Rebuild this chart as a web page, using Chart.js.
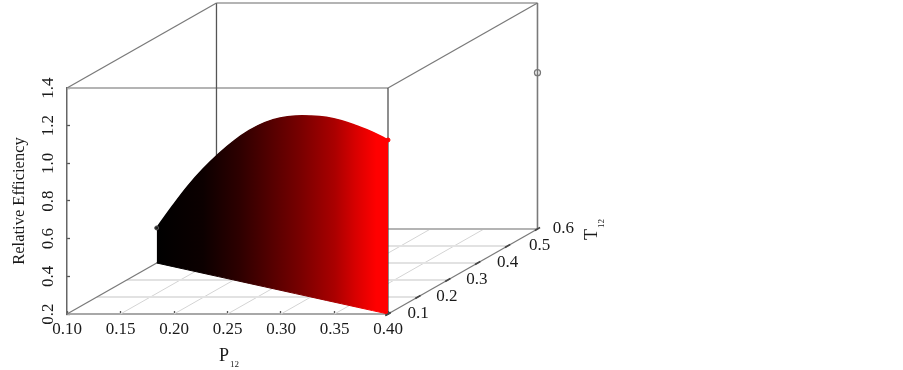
<!DOCTYPE html>
<html>
<head>
<meta charset="utf-8">
<style>html,body{margin:0;padding:0;background:#fff}#box{position:relative;width:903px;height:370px}</style>
<script src="https://cdn.jsdelivr.net/npm/chart.js@4/dist/chart.umd.min.js"></script>
</head>
<body>
<div id="box"><canvas id="c" width="903" height="370"></canvas></div>
<script>
// Data
const pTicks = [0.10, 0.15, 0.20, 0.25, 0.30, 0.35, 0.40];
const tTicks = [0.1, 0.2, 0.3, 0.4, 0.5, 0.6];
const effTicks = [0.2, 0.4, 0.6, 0.8, 1.0, 1.2, 1.4];
const surfaceP = [0.10,0.12,0.14,0.16,0.18,0.20,0.22,0.24,0.26,0.28,0.30,0.32,0.34,0.36,0.38,0.40];
const surfaceT = [0.40,0.38,0.36,0.34,0.32,0.30,0.28,0.26,0.24,0.22,0.20,0.18,0.16,0.14,0.12,0.10];
const surfaceEff = [0.386,0.518,0.643,0.753,0.851,0.938,1.012,1.072,1.114,1.143,1.161,1.172,1.172,1.162,1.148,1.124];
const markerPoint = [0.40, 0.60, 1.03]; // P, T, efficiency

// Oblique view: how much one unit of T shifts a point in P and efficiency units
const SHIFT_P = 0.2794, SHIFT_E = 0.9027, T0 = 0.1;
const P_MIN = 0.10, P_MAX = 0.40, E_MIN = 0.2, E_MAX = 1.4, T_MAX = 0.6;
const project = (p, t, e) => ({ x: p + (t - T0) * SHIFT_P, y: e + (t - T0) * SHIFT_E });

const seg = (a, b, color, width, order) => ({
  data: [project(...a), project(...b)], borderColor: color, borderWidth: width,
  pointRadius: 0, clip: false, order, fill: false, tension: 0
});

const FONT = '"Liberation Serif", serif';
const TEXT = '#1a1a1a';
const colorStops = [[0, '#000000'], [0.2, '#0c0000'], [0.36, '#2e0000'], [0.62, '#780000'], [0.77, '#aa0000'], [0.86, '#d80000'], [0.95, '#ff0000'], [1, '#ff0000']];
function surfaceGradient(c) {
  const ch = c.chart, xs = ch.scales.x;
  if (!ch.chartArea || !xs) return '#800000';
  const g = ch.ctx.createLinearGradient(
    xs.getPixelForValue(project(surfaceP[0], surfaceT[0], 0).x), 0,
    xs.getPixelForValue(project(surfaceP[surfaceP.length - 1], surfaceT[surfaceT.length - 1], 0).x), 0);
  colorStops.forEach(s => g.addColorStop(s[0], s[1]));
  return g;
}

const datasets = [];
// Surface: sits above everything else
const lastIdx = surfaceP.length - 1;
datasets.push({
  data: surfaceP.map((p, i) => project(p, surfaceT[i], surfaceEff[i])),
  order: 0, clip: false, tension: 0.4,
  borderColor: surfaceGradient, backgroundColor: surfaceGradient, borderWidth: 1.5, fill: '+1',
  pointRadius: surfaceP.map((p, i) => (i === 0 || i === lastIdx) ? 2 : 0),
  pointBackgroundColor: surfaceP.map((p, i) => i === 0 ? '#222222' : '#ff0000'),
  pointBorderColor: surfaceP.map((p, i) => i === 0 ? '#555555' : '#ff0000'),
  pointBorderWidth: 1
});
datasets.push({
  data: surfaceP.map((p, i) => project(p, surfaceT[i], E_MIN)),
  order: 0.5, clip: false, borderColor: surfaceGradient, borderWidth: 1, pointRadius: 0, fill: false
});
// Floor grid
tTicks.forEach(t => datasets.push(seg([P_MIN, t, E_MIN], [P_MAX, t, E_MIN], t === T0 ? 'rgba(0,0,0,0)' : (t === T_MAX ? '#b4b4b4' : '#e2e2e2'), 2, 5)));
pTicks.forEach(p => { if (p !== P_MIN && p !== P_MAX) datasets.push(seg([p, T0, E_MIN], [p, T_MAX, E_MIN], '#d4d4d4', 1, 5)); });
// Box edges
const EDGE = '#7a7a7a', RIB = '#b4b4b4', DARK = '#555555';
datasets.push(seg([P_MIN, T0, E_MIN], [P_MIN, T_MAX, E_MIN], EDGE, 1.3, 3));
datasets.push(seg([P_MAX, T0, E_MIN], [P_MAX, T_MAX, E_MIN], EDGE, 1.3, 3));
datasets.push(seg([P_MIN, T0, E_MAX], [P_MIN, T_MAX, E_MAX], EDGE, 1.3, 3));
datasets.push(seg([P_MAX, T0, E_MAX], [P_MAX, T_MAX, E_MAX], EDGE, 1.3, 3));
datasets.push(seg([P_MIN, T_MAX, E_MIN], [P_MIN, T_MAX, E_MAX], DARK, 1.3, 3));
datasets.push(seg([P_MAX, T_MAX, E_MIN], [P_MAX, T_MAX, E_MAX], EDGE, 1.6, 3));
datasets.push(seg([P_MAX, T0, E_MIN], [P_MAX, T0, E_MAX], '#444444', 1.2, 3));
datasets.push(seg([P_MIN, T0, E_MAX], [P_MAX, T0, E_MAX], RIB, 2, 3));
datasets.push(seg([P_MIN, T_MAX, E_MAX], [P_MAX, T_MAX, E_MAX], RIB, 2, 3));
// Elements lying outside the plot rectangle (redrawn by the plugin below)
datasets.push({
  outside: true, order: 1, clip: false, showLine: false,
  data: [project(...markerPoint)], pointStyle: 'circle', pointRadius: 3,
  pointBackgroundColor: 'rgba(255,255,255,0)', pointBorderColor: '#777777', pointBorderWidth: 1.3
});
datasets.push({
  outside: true, order: 1, clip: false, showLine: false,
  data: tTicks.map(t => project(P_MAX, t, E_MIN)), pointStyle: 'line', pointRadius: 3,
  pointRotation: -30, pointBorderColor: '#444444', pointBorderWidth: 1.5
});

const labelOffsets = [30, 29, 29, 30, 32, 26];
const outerAxis = {
  id: 'outerAxis',
  afterDatasetsDraw(chart) {
    const ctx = chart.ctx, full = { left: -50, right: 1000, top: -50, bottom: 500 };
    chart.data.datasets.forEach((d, i) => {
      if (d.outside) chart.getDatasetMeta(i).data.forEach(el => el.draw(ctx, full));
    });
    const xs = chart.scales.x, ys = chart.scales.y;
    ctx.save();
    ctx.fillStyle = TEXT;
    ctx.font = '17px ' + FONT;
    ctx.textAlign = 'center';
    ctx.textBaseline = 'middle';
    tTicks.forEach((t, i) => {
      const q = project(P_MAX, t, E_MIN);
      ctx.fillText(t.toFixed(1), xs.getPixelForValue(q.x) + labelOffsets[i], ys.getPixelForValue(q.y));
    });
    // Axis titles with subscripts
    ctx.textAlign = 'left';
    ctx.textBaseline = 'alphabetic';
    ctx.font = '18px ' + FONT;
    ctx.fillText('P', 219, 361);
    ctx.font = '9px ' + FONT;
    ctx.fillText('12', 230, 367);
    ctx.translate(597, 240);
    ctx.rotate(-Math.PI / 2);
    ctx.font = '18px ' + FONT;
    ctx.fillText('T', 0, 0);
    ctx.font = '9px ' + FONT;
    ctx.fillText('12', 12, 7);
    ctx.restore();
  }
};

new Chart(document.getElementById('c'), {
  type: 'line',
  data: { datasets },
  plugins: [outerAxis],
  options: {
    responsive: false,
    animation: false,
    events: [],
    layout: { padding: { top: 88, right: 515, left: 0, bottom: 0 } },
    plugins: { legend: { display: false }, tooltip: { enabled: false } },
    scales: {
      x: {
        type: 'linear',
        afterDataLimits(s) { s.min = P_MIN; s.max = P_MAX; },
        afterFit(s) { s.height = 56; },
        grid: { drawOnChartArea: false, tickLength: -3, tickColor: '#555555', tickWidth: 1.3 },
        border: { color: '#a8a8a8', width: 2 },
        afterBuildTicks(s) { s.ticks = pTicks.map(v => ({ value: v })); },
        ticks: {
          autoSkip: false, maxRotation: 0, minRotation: 0, padding: 8, color: TEXT,
          font: { family: FONT, size: 17 },
          callback: v => v.toFixed(2)
        }
      },
      y: {
        type: 'linear', min: E_MIN, max: E_MAX,
        afterFit(s) { s.width = 67; },
        grid: { drawOnChartArea: false, tickLength: -3, tickColor: '#555555', tickWidth: 1.3 },
        border: { color: '#666666', width: 1.5 },
        afterBuildTicks(s) { s.ticks = effTicks.map(v => ({ value: v })); },
        title: { display: true, text: 'Relative Efficiency', color: TEXT, font: { family: FONT, size: 16.5 }, padding: { top: 10, bottom: 0 } },
        ticks: {
          autoSkip: false, minRotation: 90, maxRotation: 90, crossAlign: 'center', padding: 11, color: TEXT,
          font: { family: FONT, size: 17 },
          callback: v => v.toFixed(1)
        }
      }
    }
  }
});
</script>
</body>
</html>
